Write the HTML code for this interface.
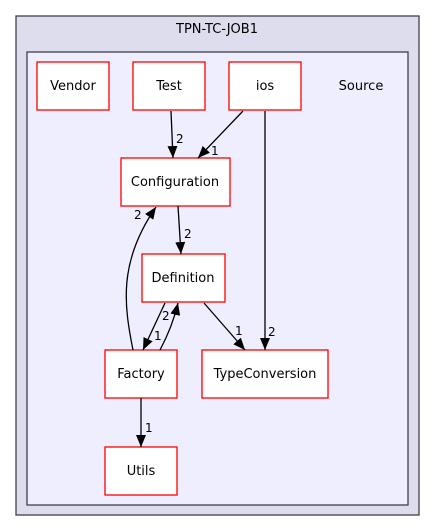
<!DOCTYPE html>
<html><head><meta charset="utf-8"><style>
html,body{margin:0;padding:0;background:#fff;}
svg{display:block;}
text{font-family:"DejaVu Sans","Liberation Sans",sans-serif;font-size:13px;fill:#000;}
.n{fill:#fff;stroke:#ff0000;stroke-width:1.3;}
.e{fill:none;stroke:#000;stroke-width:1.3;}
.l{font-size:12px;}
</style></head><body>
<svg width="435" height="532" viewBox="0 0 435 532">
<defs>
<marker id="a" markerWidth="12" markerHeight="10" refX="12" refY="5" orient="auto" markerUnits="userSpaceOnUse">
<path d="M0,0 L12,5 L0,10 Z" fill="#000"/>
</marker>
</defs>
<rect x="16" y="16" width="403" height="499" fill="#ddddee" stroke="#404048" stroke-width="1.3"/>
<text x="217" y="33" text-anchor="middle">TPN-TC-JOB1</text>
<rect x="27" y="52" width="381" height="453" fill="#eeeeff" stroke="#404048" stroke-width="1.3"/>
<text x="361" y="90" text-anchor="middle">Source</text>

<rect class="n" x="37" y="62" width="72" height="48"/><text x="73" y="90" text-anchor="middle">Vendor</text>
<rect class="n" x="133" y="62" width="72" height="48"/><text x="169" y="90" text-anchor="middle">Test</text>
<rect class="n" x="229" y="62" width="72" height="48"/><text x="265" y="90" text-anchor="middle">ios</text>
<rect class="n" x="121" y="158" width="109" height="48"/><text x="175" y="186" text-anchor="middle">Configuration</text>
<rect class="n" x="142" y="254" width="83" height="48"/><text x="183" y="282" text-anchor="middle">Definition</text>
<rect class="n" x="105" y="350" width="72" height="48"/><text x="141" y="378" text-anchor="middle">Factory</text>
<rect class="n" x="202" y="350" width="126" height="48"/><text x="265" y="378" text-anchor="middle">TypeConversion</text>
<rect class="n" x="105" y="447" width="72" height="48"/><text x="141" y="475" text-anchor="middle">Utils</text>

<path class="e" d="M171,111 L173,158" marker-end="url(#a)"/><text class="l" x="176" y="143">2</text>
<path class="e" d="M243,111 L198,158" marker-end="url(#a)"/><text class="l" x="211" y="155">1</text>
<path class="e" d="M265,111 L265,350" marker-end="url(#a)"/><text class="l" x="268" y="336">2</text>
<path class="e" d="M178,206 L181,254" marker-end="url(#a)"/><text class="l" x="184" y="238">2</text>
<path class="e" d="M133,350 C124,305 118,262 156,207" marker-end="url(#a)"/><text class="l" x="134" y="219">2</text>
<path class="e" d="M165,303 L143,350" marker-end="url(#a)"/><text class="l" x="154" y="340">1</text>
<path class="e" d="M160,350 C168,335 174,320 178,303" marker-end="url(#a)"/><text class="l" x="162" y="320">2</text>
<path class="e" d="M204,303 L245,350" marker-end="url(#a)"/><text class="l" x="235" y="335">1</text>
<path class="e" d="M141,398 L141,447" marker-end="url(#a)"/><text class="l" x="145" y="432">1</text>
</svg>
</body></html>
